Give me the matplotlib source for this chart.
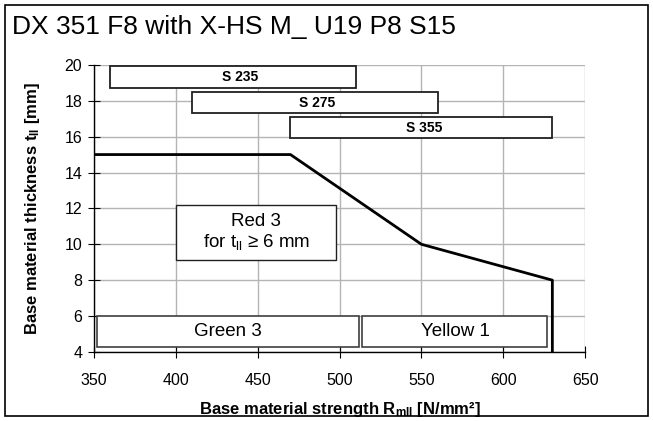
import matplotlib
matplotlib.use("Agg")
import matplotlib.pyplot as plt
from matplotlib.patches import Rectangle

plt.rcParams['font.family'] = ['Liberation Sans', 'DejaVu Sans']
plt.rcParams['mathtext.fontset'] = 'custom'
plt.rcParams['mathtext.rm'] = 'Liberation Sans'
plt.rcParams['mathtext.bf'] = 'Liberation Sans:bold'
plt.rcParams['mathtext.it'] = 'Liberation Sans'

# Limit line
line_x = [350, 470, 550, 630, 630]
line_y = [15, 15, 10, 8, 4]

# Steel grade bars: (label, x0, x1, y0, y1)
grade_labels = ["S 235", "S 275", "S 355"]
grade_x0 = [360, 410, 470]
grade_x1 = [510, 560, 630]
grade_y0 = [18.7, 17.3, 15.9]
grade_y1 = [19.95, 18.5, 17.1]
grade_label_x = [439, 486, 552]

# Bottom zone boxes
zone_labels = ["Green 3", "Yellow 1"]
zone_x0 = [352, 514]
zone_x1 = [512, 627]
zone_y0 = [4.25, 4.25]
zone_y1 = [6.0, 6.0]

# Red box
red_label = "Red 3\nfor t$_{\\mathregular{ll}}$ ≥ 6 mm"
red_x = [400, 498]
red_y = [9.1, 12.2]

xticks = [350, 400, 450, 500, 550, 600, 650]
yticks = [4, 6, 8, 10, 12, 14, 16, 18, 20]

fig = plt.figure(figsize=(6.53, 4.21), dpi=100)
fig.patches.append(Rectangle((0.008, 0.012), 0.984, 0.976, transform=fig.transFigure,
                             fill=False, edgecolor='black', lw=1.2))
ax = fig.add_axes([0.144, 0.164, 0.752, 0.682])
ax.set_xlim(350, 650)
ax.set_ylim(4, 20)
ax.set_xticks(xticks)
ax.set_yticks(yticks)
ax.grid(True, color='#b4b4b4', lw=1)
ax.set_axisbelow(True)
for s in ['top', 'right']:
    ax.spines[s].set_visible(False)
for s in ['left', 'bottom']:
    ax.spines[s].set_linewidth(1.0)
ax.tick_params(direction='inout', length=9, labelsize=11.5)
ax.tick_params(axis='x', pad=11)
ax.tick_params(axis='y', pad=4)

ax.plot(line_x, line_y, color='black', lw=2, zorder=3)

for lab, lx, x0, x1, y0, y1 in zip(grade_labels, grade_label_x, grade_x0, grade_x1,
                                   grade_y0, grade_y1):
    ax.add_patch(Rectangle((x0, y0), x1 - x0, y1 - y0, facecolor='white',
                           edgecolor='#202020', lw=1.3, zorder=4))
    ax.text(lx, (y0 + y1) / 2, lab, ha='center', va='center',
            fontsize=10, fontweight='bold', zorder=5)

for lab, x0, x1, y0, y1 in zip(zone_labels, zone_x0, zone_x1, zone_y0, zone_y1):
    ax.add_patch(Rectangle((x0, y0), x1 - x0, y1 - y0, facecolor='white',
                           edgecolor='#404040', lw=1.2, zorder=4))
    ax.text((x0 + x1) / 2, (y0 + y1) / 2, lab, ha='center', va='center',
            fontsize=13.5, zorder=5)

ax.add_patch(Rectangle((red_x[0], red_y[0]), red_x[1] - red_x[0], red_y[1] - red_y[0],
                       facecolor='white', edgecolor='#202020', lw=1.0, zorder=4))
ax.text(sum(red_x) / 2, sum(red_y) / 2, red_label, ha='center', va='center',
        fontsize=13.5, linespacing=1.15, zorder=5)

ax.set_xlabel("Base material strength R$_{\\mathbf{mll}}$ [N/mm²]", fontsize=12,
              fontweight='bold')
ax.set_ylabel("Base material thickness t$_{\\mathbf{ll}}$ [mm]", fontsize=12,
              fontweight='bold')
ax.xaxis.set_label_coords(0.5, -0.2)
ax.xaxis.label.set_va('center')
ax.yaxis.set_label_coords(-0.126, 0.5)
ax.yaxis.label.set_va('center')

fig.text(0.018, 0.935, "DX 351 F8 with X-HS M_ U19 P8 S15", fontsize=19,
         ha='left', va='center')

fig.savefig("out.png", dpi=100)
